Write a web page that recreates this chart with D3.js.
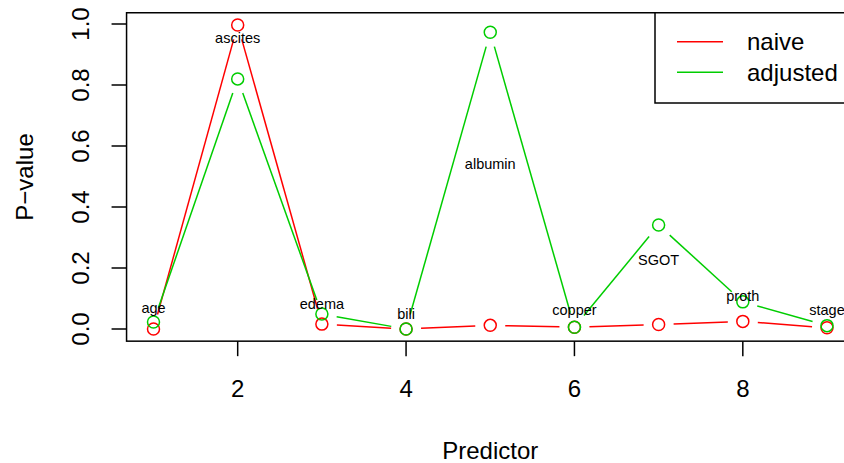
<!DOCTYPE html>
<html>
<head>
<meta charset="utf-8">
<script src="https://cdn.jsdelivr.net/npm/d3@7/dist/d3.min.js"></script>
<style>
  html, body { margin: 0; padding: 0; background: #fff; }
  svg { display: block; font-family: "Liberation Sans", Arial, Helvetica, sans-serif; }
</style>
</head>
<body>
<svg id="chart" width="844" height="463"></svg>
<script>
// ---- data ----
const predictors = ["age", "ascites", "edema", "bili", "albumin", "copper", "SGOT", "proth", "stage"];
const naive    = [0.000, 0.997, 0.016, 0.000, 0.012, 0.006, 0.015, 0.025, 0.004];
const adjusted = [0.023, 0.820, 0.049, 0.000, 0.973, 0.006, 0.341, 0.089, 0.011];
const labelY   = [0.069, 0.954, 0.082, 0.049, 0.541, 0.062, 0.226, 0.108, 0.062];
const xTicks = [2, 4, 6, 8];
const yTicks = [0, 0.2, 0.4, 0.6, 0.8, 1.0];
const seriesNames = ["naive", "adjusted"];
const seriesColors = ["#FF0000", "#00CD00"];

(function () {
// ---- layout ----
const svg = d3.select("#chart");
const xs = predictors.map((_, i) => i + 1);
const x = d3.scaleLinear().domain([1, 9]).range([153.5, 827]);
const y = d3.scaleLinear().domain([0, 1]).range([329, 24]);
const xMin = 1, xMax = 9;
const yMin = 0, yMax = d3.max(naive.concat(adjusted));
const xPad = (xMax - xMin) * 0.04, yPad = (yMax - yMin) * 0.04;
const pLeft = x(xMin - xPad), pRight = x(xMax + xPad);
const pTop = y(yMax + yPad), pBottom = y(yMin - yPad);

// series lines (type = "b": lines with gaps around points)
const gap = 15;
[naive, adjusted].forEach((vals, si) => {
  const pts = vals.map((v, i) => [x(xs[i]), y(v)]);
  for (let i = 0; i < pts.length - 1; i++) {
    const [x0, y0] = pts[i], [x1, y1] = pts[i + 1];
    const dx = x1 - x0, dy = y1 - y0, L = Math.hypot(dx, dy);
    if (L <= 2 * gap) continue;
    const ux = dx / L, uy = dy / L;
    svg.append("line")
      .attr("x1", x0 + ux * gap).attr("y1", y0 + uy * gap)
      .attr("x2", x1 - ux * gap).attr("y2", y1 - uy * gap)
      .attr("stroke", seriesColors[si]).attr("stroke-width", 1.5);
  }
  svg.selectAll(null).data(vals).enter().append("circle")
    .attr("cx", (d, i) => x(xs[i])).attr("cy", d => y(d)).attr("r", 6)
    .attr("fill", "none").attr("stroke", seriesColors[si]).attr("stroke-width", 1.5);
});

// point labels
svg.selectAll(null).data(predictors).enter().append("text")
  .attr("x", (d, i) => x(xs[i])).attr("y", (d, i) => y(labelY[i]) + 5)
  .attr("text-anchor", "middle").attr("font-size", 14.5).attr("fill", "#000")
  .text(d => d);

// box
svg.append("rect").attr("x", pLeft).attr("y", pTop)
  .attr("width", pRight - pLeft).attr("height", pBottom - pTop)
  .attr("fill", "none").attr("stroke", "#000").attr("stroke-width", 1.5);

// x axis
const xAxis = svg.append("g");
xAxis.selectAll(null).data(xTicks).enter().append("line")
  .attr("x1", d => x(d)).attr("x2", d => x(d))
  .attr("y1", pBottom).attr("y2", pBottom + 15)
  .attr("stroke", "#000").attr("stroke-width", 1.5);
xAxis.selectAll(null).data(xTicks).enter().append("text")
  .attr("x", d => x(d)).attr("y", 397)
  .attr("text-anchor", "middle").attr("font-size", 24).text(d => d);

// y axis
const yAxis = svg.append("g");
yAxis.selectAll(null).data(yTicks).enter().append("line")
  .attr("x1", pLeft - 15).attr("x2", pLeft)
  .attr("y1", d => y(d)).attr("y2", d => y(d))
  .attr("stroke", "#000").attr("stroke-width", 1.5);
yAxis.selectAll(null).data(yTicks).enter().append("text")
  .attr("transform", d => `translate(89,${y(d)}) rotate(-90)`)
  .attr("text-anchor", "middle").attr("font-size", 24).text(d => d.toFixed(1));

// axis titles
svg.append("text").attr("x", x(5)).attr("y", 459)
  .attr("text-anchor", "middle").attr("font-size", 24).text("Predictor");
svg.append("text").attr("transform", `translate(33,${(pTop + pBottom) / 2}) rotate(-90)`)
  .attr("text-anchor", "middle").attr("font-size", 24).text("P\u2212value");

// legend
const lg = svg.append("g");
lg.append("rect").attr("x", 655).attr("y", pTop).attr("width", 220).attr("height", 103 - pTop)
  .attr("fill", "#fff").attr("stroke", "#000").attr("stroke-width", 1.5);
seriesNames.forEach((n, i) => {
  const ly = 41.7 + i * 30.6;
  lg.append("line").attr("x1", 677).attr("x2", 723).attr("y1", ly).attr("y2", ly)
    .attr("stroke", seriesColors[i]).attr("stroke-width", 1.5);
  lg.append("text").attr("x", 747).attr("y", ly + 8.5).attr("font-size", 24).text(n);
});
})();
</script>
</body>
</html>
